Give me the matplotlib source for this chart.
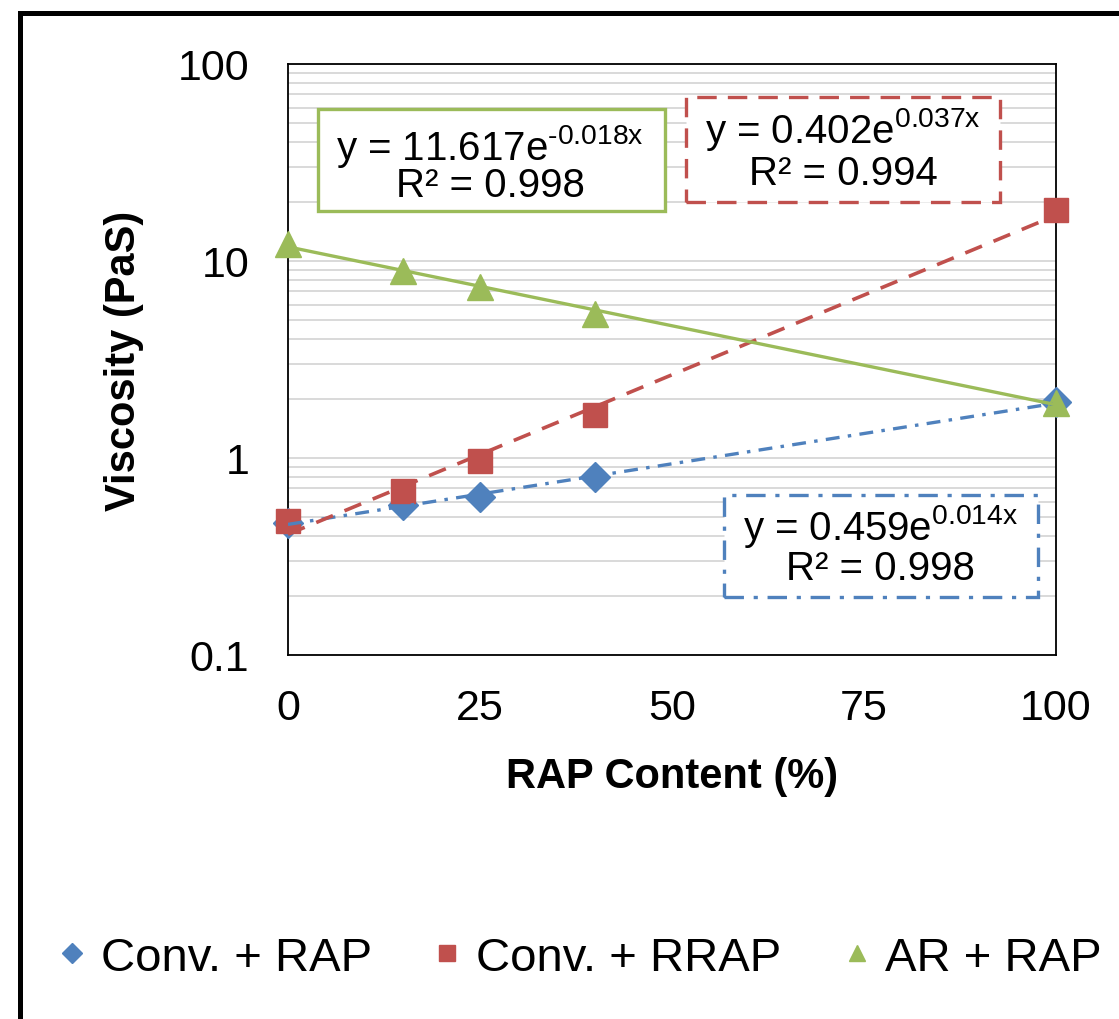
import numpy as np
import matplotlib
matplotlib.use('Agg')
import matplotlib.pyplot as plt
from matplotlib.lines import Line2D
from matplotlib.patches import Rectangle
from matplotlib.ticker import LogLocator, NullFormatter

plt.rcParams['font.family'] = ['Liberation Sans', 'DejaVu Sans']
plt.rcParams['mathtext.fontset'] = 'custom'
plt.rcParams['mathtext.rm'] = 'Liberation Sans'
plt.rcParams['lines.scale_dashes'] = False

# данные
rap = [0, 15, 25, 40, 100]                       # RAP Content (%)
conv_rap = [0.47, 0.58, 0.63, 0.80, 1.92]       # Conv. + RAP
conv_rrap = [0.48, 0.68, 0.97, 1.65, 18.2]      # Conv. + RRAP
ar_rap = [12.2, 8.9, 7.4, 5.4, 1.9]             # AR + RAP

series_names = ['Conv. + RAP', 'Conv. + RRAP', 'AR + RAP']
eq_text = ['y = 0.459e$^{\\text{0.014x}}$',
           'y = 0.402e$^{\\text{0.037x}}$',
           'y = 11.617e$^{\\text{-0.018x}}$']
r2_text = ['R² = 0.998', 'R² = 0.994', 'R² = 0.998']

yticks = [0.1, 1, 10, 100]
yticklabels = ['0.1', '1', '10', '100']
xticks = [0, 25, 50, 75, 100]

blue = '#4F81BD'
red = '#C0504D'
green = '#9BBB59'

fig = plt.figure(figsize=(11.19, 10.20), dpi=100)
ax = fig.add_axes([0.2574, 0.3569, 0.6863, 0.5794])

x = np.array(rap, dtype=float)
xx = np.linspace(0, 100, 200)

# точки
ax.plot(x, conv_rap, ls='none', marker='D', ms=15, color=blue, clip_on=False, zorder=3)
ax.plot(x, conv_rrap, ls='none', marker='s', ms=17, color=red, clip_on=False, zorder=3)
ax.plot(x, ar_rap, ls='none', marker='^', ms=19, color=green, clip_on=False, zorder=3)

# экспоненциальные линии тренда (МНК по логарифму)
def trend(y):
    b, lna = np.polyfit(x, np.log(y), 1)
    return np.exp(lna) * np.exp(b * xx)

ax.plot(xx, trend(conv_rap), color=blue, lw=2.4, ls=(0, (10, 6, 2.5, 6)), zorder=4)
ax.plot(xx, trend(conv_rrap), color=red, lw=2.6, ls=(0, (13, 9)), zorder=4)
ax.plot(xx, trend(ar_rap), color=green, lw=2.4, ls='-', zorder=4)

ax.set_yscale('log')
ax.set_xlim(0, 100)
ax.set_ylim(0.1, 100)
ax.set_xticks(xticks)
ax.set_xticklabels([str(t) for t in xticks])
ax.set_yticks(yticks)
ax.set_yticklabels(yticklabels)
ax.yaxis.set_minor_locator(LogLocator(base=10, subs=np.arange(2, 10)))
ax.yaxis.set_minor_formatter(NullFormatter())
ax.tick_params(axis='both', which='both', length=0)
ax.tick_params(axis='y', labelsize=31, pad=28)
ax.tick_params(axis='x', labelsize=31, pad=24)

ax.grid(True, which='both', axis='y', color='#D9D9D9', lw=1.4)
ax.set_axisbelow(True)
for s in ax.spines.values():
    s.set_linewidth(1.3)
    s.set_color('black')

ax.set_xlabel('RAP Content (%)', fontsize=30, fontweight='bold', labelpad=20)
ax.set_ylabel('Viscosity (PaS)', fontsize=30, fontweight='bold', labelpad=24)

# подписи уравнений в рамках (координаты осей)
boxes = [((0.568, 0.098), 0.409, 0.173, blue, (0, (14, 7, 3, 7))),
         ((0.518, 0.767), 0.409, 0.177, red, (0, (14, 8))),
         ((0.039, 0.751), 0.452, 0.173, green, '-')]
txt_pos = [(0.771, 0.196, 0.129), (0.723, 0.868, 0.797), (0.263, 0.839, 0.777)]
for i in range(3):
    (x0, y0), w, h, c, ls = boxes[i]
    ax.add_patch(Rectangle((x0, y0), w, h, transform=ax.transAxes, fill=True,
                           facecolor='white', edgecolor=c, lw=2.4, ls=ls, zorder=5))
    tx, ty1, ty2 = txt_pos[i]
    ax.text(tx, ty1, eq_text[i], transform=ax.transAxes, ha='center', va='baseline',
            fontsize=29, zorder=6)
    ax.text(tx, ty2, r2_text[i], transform=ax.transAxes, ha='center', va='baseline',
            fontsize=29, zorder=6)

# легенда
handles = [Line2D([], [], ls='none', marker='D', ms=10, color=blue),
           Line2D([], [], ls='none', marker='s', ms=11, color=red),
           Line2D([], [], ls='none', marker='^', ms=12, color=green)]
fig.legend(handles, series_names, loc='center left', bbox_to_anchor=(0.052, 0.060),
           ncol=3, frameon=False, fontsize=34, handlelength=0.6, handletextpad=0.3,
           columnspacing=1.3, borderaxespad=0, borderpad=0)

# внешняя рамка
fig.add_artist(Rectangle((0.0179, -0.2), 1.5, 1.1863, transform=fig.transFigure,
                         fill=False, edgecolor='black', lw=3.6))

fig.savefig('out.png', dpi=100)
